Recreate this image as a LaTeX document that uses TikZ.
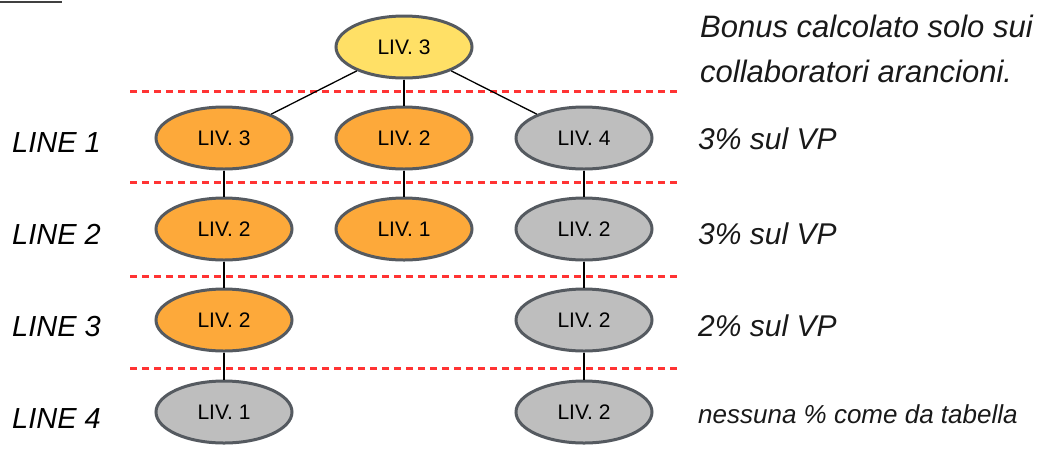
\documentclass[tikz,border=0pt]{standalone}
\usepackage{fontspec}
\setmainfont{Liberation Sans}
\usepackage{xcolor}
\usetikzlibrary{shapes.geometric}
\definecolor{livyellow}{RGB}{255,224,102}
\definecolor{livorange}{RGB}{253,169,58}
\definecolor{livgrey}{RGB}{190,190,190}
\definecolor{livedge}{RGB}{85,90,96}
\definecolor{sepred}{RGB}{255,51,51}

\begin{document}
\begin{tikzpicture}[
  x=1pt,y=-1pt,
  livnode/.style={ellipse,draw=livedge,line width=3pt,minimum width=136pt,
                  minimum height=62pt,inner sep=0pt,
                  font=\fontsize{21}{24}\selectfont},
  topnode/.style={livnode,fill=livyellow},
  orangenode/.style={livnode,fill=livorange},
  greynode/.style={livnode,fill=livgrey},
  link/.style={line width=1.3pt,black},
  divider/.style={line width=3pt,sepred,dash pattern=on 7pt off 5pt},
  rowlabel/.style={anchor=base west,inner sep=0pt,
                   font=\fontsize{29}{34}\selectfont\itshape},
  notetext/.style={rowlabel,text=black!90,
                   font=\fontsize{30}{36}\selectfont\itshape},
]
\useasboundingbox (0,0) rectangle (1040,456);
% small rule in the corner
\draw[line width=2pt,black!75] (0,1.8) -- (62,1.8);

% separators between the lines
\foreach \yy in {91,182,276,368}
  \draw[divider] (130,\yy) -- (680,\yy);

% top
\node[topnode] (t) at (404,47) {LIV. 3};
% line 1
\node[orangenode] (a1) at (224,138) {LIV. 3};
\node[orangenode] (b1) at (404,138) {LIV. 2};
\node[greynode]   (c1) at (584,138) {LIV. 4};
% line 2
\node[orangenode] (a2) at (224,229) {LIV. 2};
\node[orangenode] (b2) at (404,229) {LIV. 1};
\node[greynode]   (c2) at (584,229) {LIV. 2};
% line 3
\node[orangenode] (a3) at (224,320) {LIV. 2};
\node[greynode]   (c3) at (584,320) {LIV. 2};
% line 4
\node[greynode]   (a4) at (224,412) {LIV. 1};
\node[greynode]   (c4) at (584,412) {LIV. 2};

% links
\draw[link] (t) -- (a1);
\draw[link] (t) -- (b1);
\draw[link] (t) -- (c1);
\draw[link] (a1) -- (a2);
\draw[link] (a2) -- (a3);
\draw[link] (a3) -- (a4);
\draw[link] (b1) -- (b2);
\draw[link] (c1) -- (c2);
\draw[link] (c2) -- (c3);
\draw[link] (c3) -- (c4);

% row names
\node[rowlabel] (l1) at (12,152) {LINE 1};
\node[rowlabel] (l2) at (12,244) {LINE 2};
\node[rowlabel] (l3) at (12,336) {LINE 3};
\node[rowlabel] (l4) at (12,428) {LINE 4};

% notes on the right
\node[notetext,anchor=north west,align=left,
      font=\fontsize{31}{45}\selectfont\itshape] (bonus) at (700,15)
  {Bonus calcolato solo sui\\collaboratori arancioni.};
\node[notetext] (p1) at (698,149) {3\% sul VP};
\node[notetext] (p2) at (698,244) {3\% sul VP};
\node[notetext] (p3) at (698,336) {2\% sul VP};
\node[notetext,font=\fontsize{26}{30}\selectfont\itshape] (p4) at (698,423)
  {nessuna \% come da tabella};
\end{tikzpicture}
\end{document}
